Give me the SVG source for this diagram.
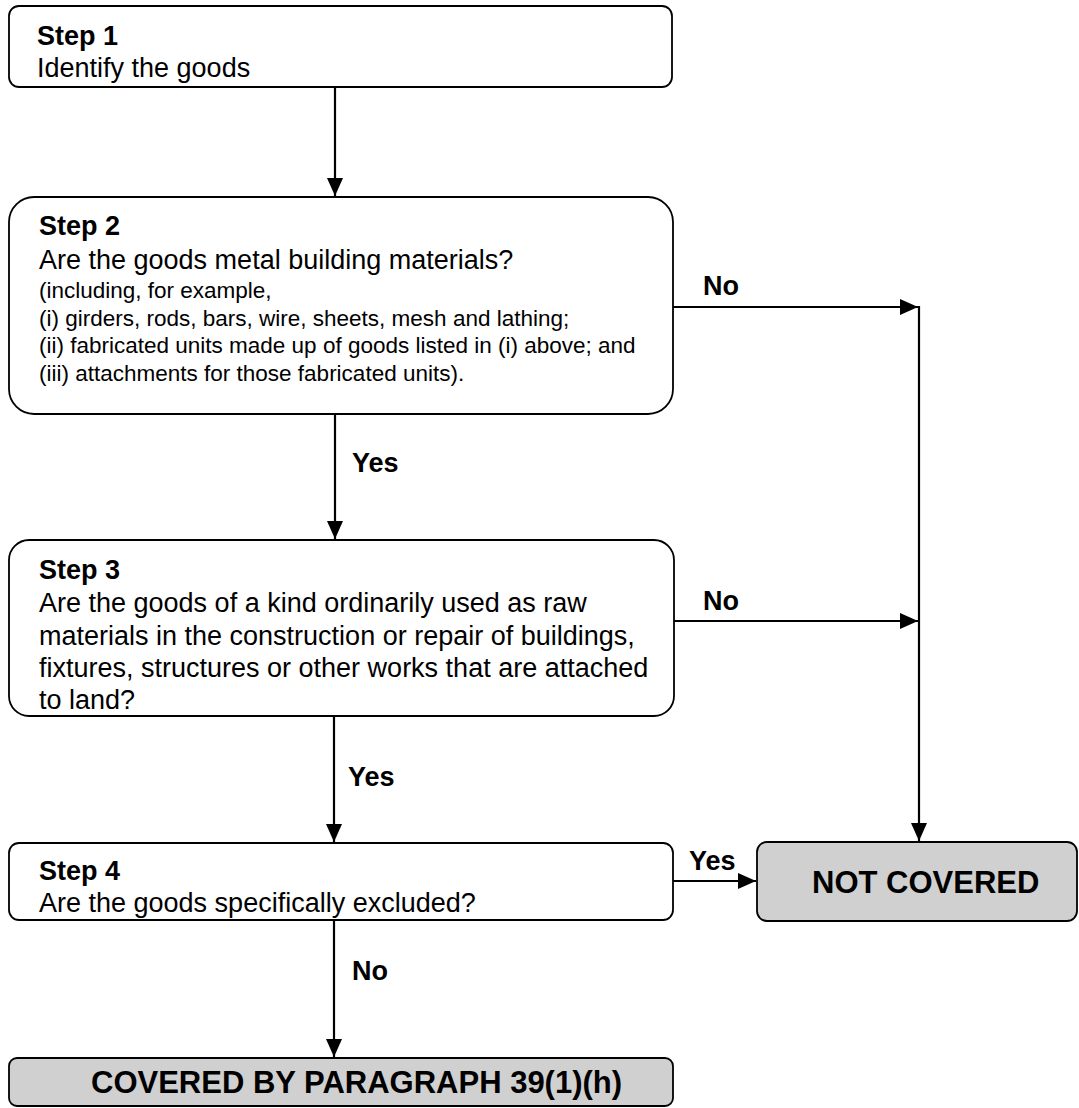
<svg xmlns="http://www.w3.org/2000/svg" width="1079" height="1108" viewBox="0 0 1079 1108">
<style>
.box{fill:#fff;stroke:#000;stroke-width:1.8}
.end{fill:#d0d0d0;stroke:#000;stroke-width:1.8}
.t{font-family:"Liberation Sans",Arial,sans-serif;font-size:27px;fill:#000}
.b{font-weight:bold}
.s{font-size:22.5px}
.big{font-size:31px;font-weight:bold}
.c{stroke:#000;stroke-width:2.2;fill:none}
</style>
<defs>
<marker id="ah" markerUnits="userSpaceOnUse" markerWidth="20" markerHeight="16" refX="18" refY="8" orient="auto">
<path d="M0,0 L18,8 L0,16 z" fill="#000"/>
</marker>
</defs>
<rect width="1079" height="1108" fill="#fff"/>
<g id="connectors">
<line class="c" x1="335" y1="87" x2="335" y2="196" marker-end="url(#ah)"/>
<line class="c" x1="335" y1="414" x2="335" y2="539" marker-end="url(#ah)"/>
<line class="c" x1="334" y1="716" x2="334" y2="842" marker-end="url(#ah)"/>
<line class="c" x1="334" y1="920" x2="334" y2="1057" marker-end="url(#ah)"/>
<line class="c" x1="673" y1="307" x2="918" y2="307" marker-end="url(#ah)"/>
<line class="c" x1="674" y1="621" x2="918" y2="621" marker-end="url(#ah)"/>
<line class="c" x1="919" y1="306" x2="919" y2="841" marker-end="url(#ah)"/>
<line class="c" x1="673" y1="881" x2="756" y2="881" marker-end="url(#ah)"/>
<text class="t b" x="352" y="472">Yes</text>
<text class="t b" x="348" y="786">Yes</text>
<text class="t b" x="352" y="980">No</text>
<text class="t b" x="703" y="295">No</text>
<text class="t b" x="703" y="610">No</text>
<text class="t b" x="689" y="870">Yes</text>
</g>
<g id="step1">
<rect class="box" x="9" y="6" width="663" height="81" rx="10"/>
<text class="t b" x="37" y="45">Step 1</text>
<text class="t" x="37" y="77">Identify the goods</text>
</g>
<g id="step2">
<rect class="box" x="9" y="197" width="664" height="217" rx="25"/>
<text class="t b" x="39" y="235">Step 2</text>
<text class="t" x="39" y="269">Are the goods metal building materials?</text>
<text class="t s" x="39" y="298">(including, for example,</text>
<text class="t s" x="39" y="326">(i) girders, rods, bars, wire, sheets, mesh and lathing;</text>
<text class="t s" x="39" y="353">(ii) fabricated units made up of goods listed in (i) above; and</text>
<text class="t s" x="39" y="381">(iii) attachments for those fabricated units).</text>
</g>
<g id="step3">
<rect class="box" x="9" y="540" width="665" height="176" rx="20"/>
<text class="t b" x="39" y="579">Step 3</text>
<text class="t" x="39" y="612">Are the goods of a kind ordinarily used as raw</text>
<text class="t" x="39" y="645">materials in the construction or repair of buildings,</text>
<text class="t" x="39" y="677">fixtures, structures or other works that are attached</text>
<text class="t" x="39" y="709">to land?</text>
</g>
<g id="step4">
<rect class="box" x="9" y="843" width="664" height="77" rx="10"/>
<text class="t b" x="39" y="880">Step 4</text>
<text class="t" x="39" y="912">Are the goods specifically excluded?</text>
</g>
<g id="not-covered">
<rect class="end" x="757" y="842" width="320" height="79" rx="10"/>
<text class="t big" x="812" y="893">NOT COVERED</text>
</g>
<g id="covered">
<rect class="end" x="9" y="1058" width="664" height="48" rx="8"/>
<text class="t big" x="91" y="1093">COVERED BY PARAGRAPH 39(1)(h)</text>
</g>
</svg>
